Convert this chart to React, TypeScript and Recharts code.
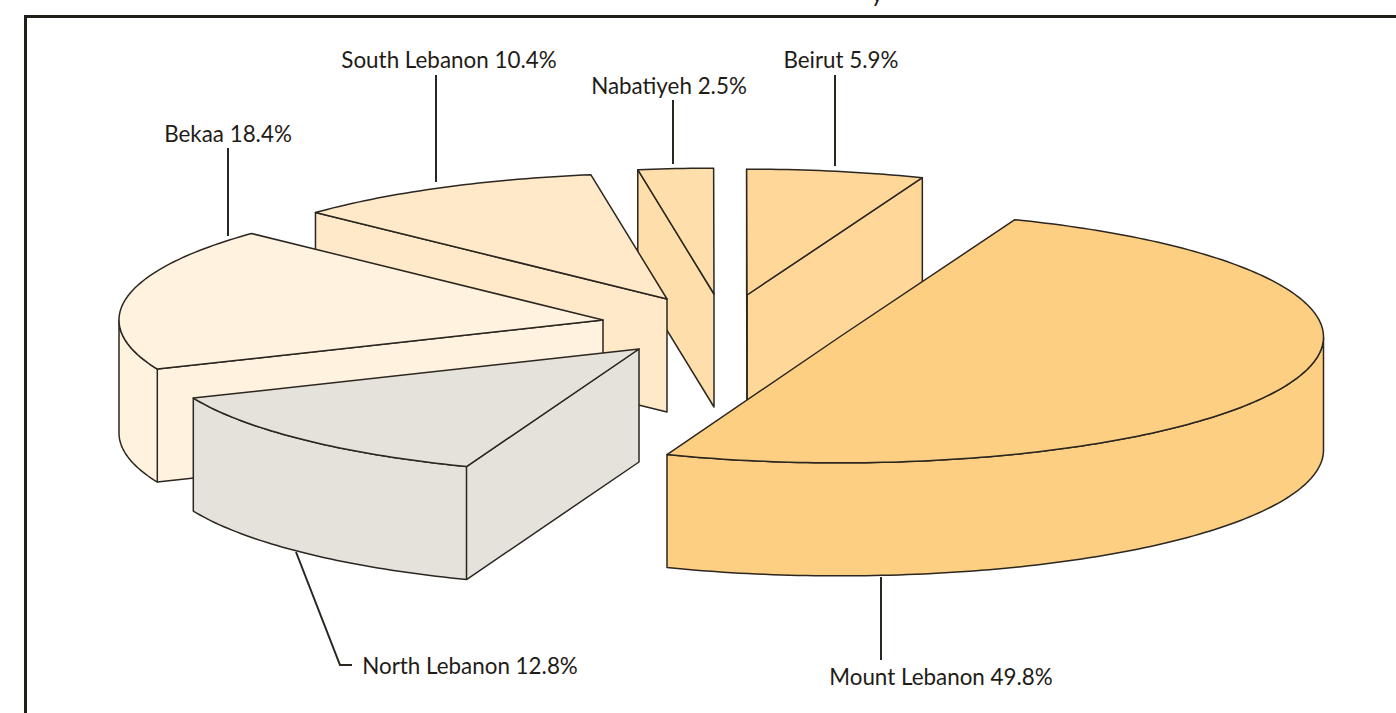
import { PieChart, Pie } from "recharts";

const regions = ["Beirut", "Nabatiyeh", "South Lebanon", "Bekaa", "North Lebanon", "Mount Lebanon"];
const shares = [5.9, 2.5, 10.4, 18.4, 12.8, 49.8];
const colors = ["#FFD799", "#FEDEAB", "#FFE9C9", "#FFF2DE", "#E5E2DB", "#FDCF82"];

// how far each slice is pulled out of the pie, in px
const explode: Record<string, [number, number]> = {
  Beirut: [47, -25],
  Nabatiyeh: [14, -26],
  "South Lebanon": [-33, -21],
  Bekaa: [-97, 0],
  "North Lebanon": [-61, 29],
  "Mount Lebanon": [139.5, 17],
};

// label text anchor + leader line
const callouts: Record<string, { x: number; y: number; line: string }> = {
  Beirut: { x: 841, y: 68, line: "M835 75V166" },
  Nabatiyeh: { x: 669, y: 94, line: "M673 100V164" },
  "South Lebanon": { x: 449, y: 68, line: "M436 75V182" },
  Bekaa: { x: 228, y: 142, line: "M228 148V236" },
  "North Lebanon": { x: 470, y: 674, line: "M296 552L340 665H352" },
  "Mount Lebanon": { x: 941, y: 685, line: "M881 577V660" },
};

const data = regions.map((name, i) => ({ name, value: shares[i], fill: colors[i] }));

const TILT = 0.26;
const DEPTH = 113;
const INK = "#2b2620";
const FONT = "Lato, 'Open Sans', sans-serif";
// Beirut's left edge sits at 12 o'clock; it is first so Mount Lebanon paints over its wall
const START = 90 - shares[0] * 3.6;

function Slice3D(props: any) {
  const { cx, cy, outerRadius, startAngle, endAngle, payload, fill } = props;
  const name = props.name ?? payload?.name;
  const [dx, dy] = explode[name];
  const ox = cx + dx;
  const oy = cy + dy;

  const pts: [number, number][] = [[ox, oy]];
  const steps = Math.max(2, Math.ceil(endAngle - startAngle));
  for (let s = 0; s <= steps; s++) {
    const a = ((startAngle + ((endAngle - startAngle) * s) / steps) * Math.PI) / 180;
    pts.push([ox + outerRadius * Math.cos(a), oy - outerRadius * TILT * Math.sin(a)]);
  }
  pts.push([ox, oy]);

  // walls: runs of edges whose outward side faces the viewer
  const runs: [number, number][][] = [];
  let run: [number, number][] | null = null;
  for (let i = 0; i < pts.length - 1; i++) {
    if (pts[i + 1][0] - pts[i][0] > 0.01) {
      if (!run) run = [pts[i]];
      run.push(pts[i + 1]);
    } else if (run) {
      runs.push(run);
      run = null;
    }
  }
  if (run) runs.push(run);

  const toPath = (list: [number, number][]) => list.map((p, i) => `${i ? "L" : "M"}${p[0]} ${p[1]}`).join("");
  // the crease where the rim meets a cut face
  const creases = [pts[1], pts[pts.length - 2]].filter((p) => runs.some((r) => r.indexOf(p) > 0 && r.indexOf(p) < r.length - 1));

  return (
    <g>
      {runs.map((r, i) => {
        const lower = [...r].reverse().map((p) => [p[0], p[1] + DEPTH] as [number, number]);
        return <path key={i} d={toPath([...r, ...lower]) + "Z"} fill={fill} stroke={INK} strokeWidth={1.5} strokeLinejoin="round" />;
      })}
      {creases.map((p, i) => (
        <path key={i} d={`M${p[0]} ${p[1]}V${p[1] + DEPTH}`} stroke={INK} strokeWidth={1.5} />
      ))}
      <path d={toPath(pts) + "Z"} fill={fill} stroke={INK} strokeWidth={1.5} strokeLinejoin="round" />
    </g>
  );
}

function Callout(props: any) {
  const c = callouts[props.name];
  return (
    <g>
      <path d={c.line} fill="none" stroke={INK} strokeWidth={2} />
      <text x={c.x} y={c.y} textAnchor="middle" fontFamily={FONT} fontSize={22.4} fill="#1f1c18">
        {`${props.name} ${props.value.toFixed(1)}%`}
      </text>
    </g>
  );
}

export default function App() {
  return (
    <div style={{ position: "fixed", left: 0, top: 0, width: 1396, height: 713, overflow: "hidden", background: "#fff" }}>
      <div style={{ position: "absolute", left: 24, top: 15, width: 1372, height: 698, borderTop: "3px solid #221e18", borderLeft: "3px solid #221e18", boxSizing: "border-box" }} />
      <div style={{ position: "absolute", left: 871, top: -22, fontFamily: FONT, fontSize: 24, lineHeight: "30px", color: "#1f1c18" }}>y</div>
      <div style={{ position: "absolute", left: 0, top: 0 }}>
        <PieChart width={1396} height={713} margin={{ top: 0, right: 0, bottom: 0, left: 0 }}>
          <Pie
            data={data}
            dataKey="value"
            nameKey="name"
            cx={700}
            cy={320}
            innerRadius={0}
            outerRadius={484}
            startAngle={START}
            endAngle={START + 360}
            paddingAngle={0}
            shape={Slice3D}
            label={Callout}
            labelLine={false}
            isAnimationActive={false}
          />
        </PieChart>
      </div>
    </div>
  );
}
